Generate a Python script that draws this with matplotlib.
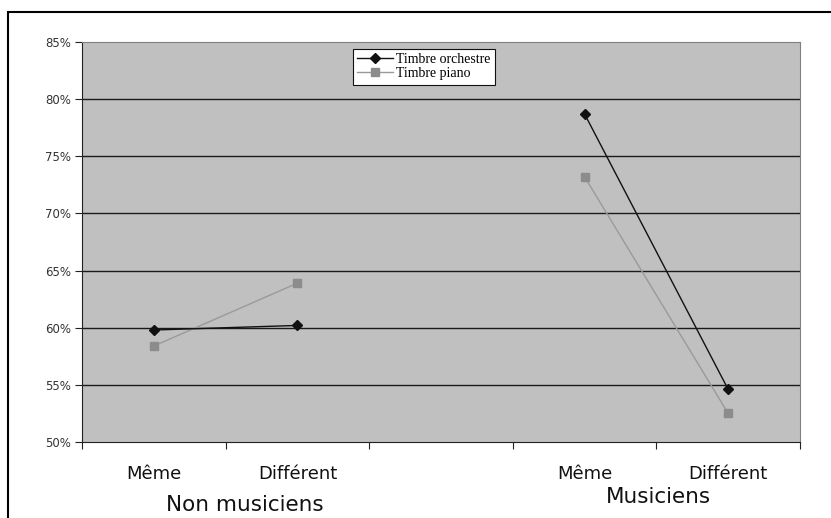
import matplotlib.pyplot as plt
import matplotlib.patches as mpatches
import numpy as np

# categories along x (blank slot separates the two groups)
categories = ['Même', 'Différent', '', 'Même', 'Différent']
groups = ['Non musiciens', 'Musiciens']

# percent correct, NaN in the gap slot
orchestre = [59.8, 60.2, np.nan, 78.7, 54.6]
piano = [58.4, 63.9, np.nan, 73.2, 52.5]

yticks = [50, 55, 60, 65, 70, 75, 80, 85]


fig = plt.figure(figsize=(8.31, 5.18), dpi=100)
ax = fig.add_axes([82/831, 1-442/518, (800-82)/831, (442-42)/518])
ax.set_facecolor('#c0c0c0')

x = np.arange(len(categories))
ax.plot(x, orchestre, color='#111111', lw=1.0, marker='D', ms=5,
        mfc='#111111', mec='#111111', label='Timbre orchestre', zorder=4)
ax.plot(x, piano, color='#9a9a9a', lw=1.0, marker='s', ms=5.5,
        mfc='#8c8c8c', mec='#8c8c8c', label='Timbre piano', zorder=3)

ax.set_xlim(-0.5, len(categories) - 0.5)
ax.set_ylim(50, 85)
ax.set_yticks(yticks)
ax.set_yticklabels(['%d%%' % v for v in yticks], fontsize=8.5, color='#333333')
ax.set_xticks(np.arange(len(categories) + 1) - 0.5)
ax.set_xticklabels([])
ax.tick_params(axis='x', direction='out', length=5, color='#222222')
ax.tick_params(axis='y', direction='out', length=5, color='#222222', pad=3)

# gridlines
for v in yticks[1:-1]:
    ax.axhline(v, color='#1a1a1a', lw=1.0, zorder=1)

for s in ['top', 'right']:
    ax.spines[s].set_color('#808080')
for s in ['left', 'bottom']:
    ax.spines[s].set_color('#222222')

# category labels
for i, c in enumerate(categories):
    if c:
        ax.text(i, 48.0, c, ha='center', va='top', fontsize=13, color='#111111')

fig.text(245/831, 1-505/518, groups[0], ha='center', va='center', fontsize=15.5, color='#111111')
fig.text(658/831, 1-497/518, groups[1], ha='center', va='center', fontsize=15.5, color='#111111')

leg = ax.legend(loc='upper center', bbox_to_anchor=((424-82)/718, 0.99),
                prop={'family': 'Liberation Serif', 'size': 10}, frameon=True,
                fancybox=False, edgecolor='#111111', framealpha=1,
                handlelength=2.6, borderpad=0.3, labelspacing=0.1, handletextpad=0.2,
                borderaxespad=0.2)
leg.get_frame().set_linewidth(0.8)

# outer frame of the figure
fig.patches.append(mpatches.Rectangle((8/831, -0.1), 1.2, 1-12/518 + 0.1,
                                      transform=fig.transFigure, fill=False,
                                      edgecolor='black', lw=1.5))

plt.savefig('out.png', dpi=100)
